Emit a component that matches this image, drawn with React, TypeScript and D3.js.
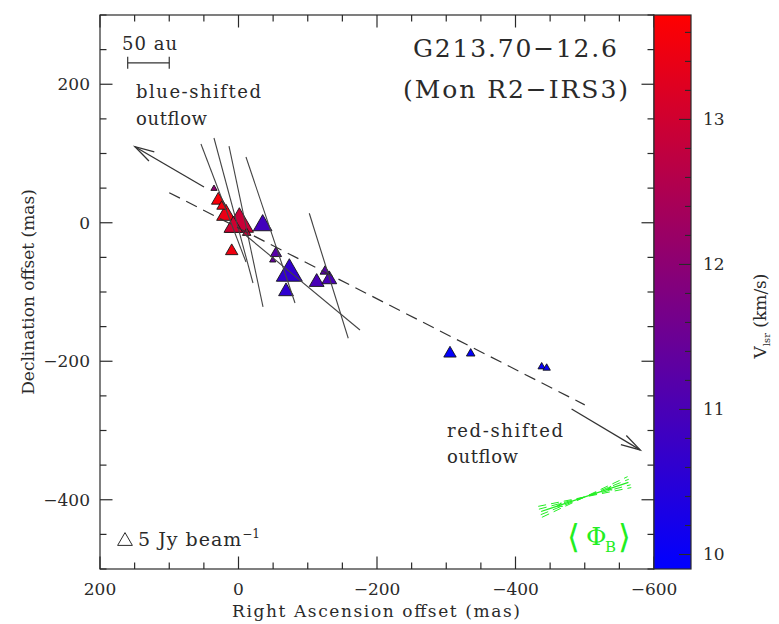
import React from 'react';
import * as d3 from 'd3';

// ---------- data ----------
const X_DOMAIN: [number, number] = [200, -600];
const Y_DOMAIN: [number, number] = [-500, 300];
const X_MAJOR = [200, 0, -200, -400, -600];
const Y_MAJOR = [200, 0, -200, -400];
const V_DOMAIN: [number, number] = [9.9, 13.72];
const V_MAJOR = [10, 11, 12, 13];

// water masers (RA offset, Dec offset in mas; peak flux Jy/beam; Vlsr km/s)
const maserRA = [35.4, 29.2, 24.3, 18.1, -1.2, 7.5, -11.8, -34.9, 9.8, -54.1, -49.4, -73.4, -68.6, -112.9, -124.9, -131.1, -305.4, -335.3, -437.8, -445.0];
const maserDec = [50.6, 35.3, 25.6, 15.1, 4.0, -2.2, -12.9, 0.1, -38.3, -41.8, -52.8, -68.2, -96.1, -82.7, -68.2, -78.8, -186.2, -187.1, -206.4, -208.3];
const maserFlux = [2.1, 4.6, 3.3, 6.3, 9.6, 6.3, 2.9, 6.3, 4.2, 3.8, 2.1, 8.8, 5.0, 5.0, 3.3, 5.0, 4.2, 2.9, 2.5, 2.5];
const maserVlsr = [12.0, 13.6, 13.5, 13.4, 12.9, 13.0, 12.9, 10.9, 13.5, 11.2, 11.4, 10.65, 10.6, 11.0, 11.2, 11.0, 9.95, 9.95, 10.0, 10.0];

// polarization vectors (segment end points, mas)
const polRA1 = [54.2, 35.4, 13.7, -10.8, -102.2, -6.9];
const polDec1 = [113.7, 122.4, 110.8, 95.0, 13.7, -15.2];
const polRA2 = [-10.8, -20.9, -35.4, -81.6, -158.5, -175.4];
const polDec2 = [-56.7, -87.0, -121.6, -115.9, -166.8, -154.9];

// outflow
const outflowAxisRA = [100, -500];
const outflowAxisDec = [43.4, -263];
const blueArrowRA = [49.8, 149.5];
const blueArrowDec = [51.6, 109.8];
const redArrowRA = [-481, -580];
const redArrowDec = [-269, -328];

// 50 au scale bar (mas)
const scaleBarRA = [160, 100];
const scaleBarDec = 231;

// mean magnetic field
const bFieldRA = -500;
const bFieldDec = -396;
const bFieldAngleDeg = 18.4; // above horizontal
const bFieldLenMas = 137;
const bFieldFanDeg = [-7, -3.5, 3.5, 7];

const LEGEND_FLUX = 5;

// ---------- layout ----------
const W = 779, H = 624;
const PL = 100, PR = 654, PT = 15, PB = 569;
const CB0 = 654, CB1 = 691;
const FONT = '"DejaVu Serif", serif';
const INK = '#2a2a2a';

function triPath(cx: number, cy: number, h: number) {
  const w = (h * 2) / Math.sqrt(3);
  return `M${cx},${cy - h / 2}L${cx + w / 2},${cy + h / 2}L${cx - w / 2},${cy + h / 2}Z`;
}

function arrowHead(x1: number, y1: number, x2: number, y2: number, len: number, ang: number) {
  const a = Math.atan2(y1 - y2, x1 - x2);
  const p1 = [x2 + len * Math.cos(a + ang), y2 + len * Math.sin(a + ang)];
  const p2 = [x2 + len * Math.cos(a - ang), y2 + len * Math.sin(a - ang)];
  return `M${p1[0]},${p1[1]}L${x2},${y2}L${p2[0]},${p2[1]}`;
}

const fmt = (v: number) => (v < 0 ? '\u2212' : '') + Math.abs(v);

export default function App() {
  const x = d3.scaleLinear().domain(X_DOMAIN).range([PL, PR]);
  const y = d3.scaleLinear().domain(Y_DOMAIN).range([PB, PT]);
  const vy = d3.scaleLinear().domain(V_DOMAIN).range([PB, PT]);
  const color = d3
    .scaleLinear<string>()
    .domain(V_DOMAIN)
    .range(['#0000ff', '#ff0000'])
    .interpolate(d3.interpolateRgb);
  const size = d3.scaleLinear().domain([0, LEGEND_FLUX]).range([0, 12.8]);

  const xMinor = d3.range(-600, 201, 50);
  const yMinor = d3.range(-500, 301, 50);
  const vMinor = d3.range(0, 19).map((i) => +(10 + i * 0.2).toFixed(1)).filter((v) => v <= V_DOMAIN[1]);

  const order = d3.range(maserRA.length).sort((a, b) => maserFlux[b] - maserFlux[a]);

  const MAJ = 12.5, MIN = 6.5;

  // b-field geometry (pixel)
  const bcx = x(bFieldRA), bcy = y(bFieldDec);
  const bHalf = (bFieldLenMas * (x(0) - x(1))) / 2;
  const seg = (angDeg: number, half: number) => {
    const a = (angDeg * Math.PI) / 180;
    return { x1: bcx - half * Math.cos(a), y1: bcy + half * Math.sin(a), x2: bcx + half * Math.cos(a), y2: bcy - half * Math.sin(a) };
  };
  const bMain = seg(bFieldAngleDeg, bHalf * 0.97);
  const ba = (bFieldAngleDeg * Math.PI) / 180;
  const chevrons = [-0.3, 0.25].map((t) => {
    const cx = bcx + t * 2 * bHalf * Math.cos(ba);
    const cy = bcy - t * 2 * bHalf * Math.sin(ba);
    return arrowHead(cx + 6 * Math.cos(ba), cy - 6 * Math.sin(ba), cx, cy, 5, 0.4);
  });

  return (
    <svg width={W} height={H} style={{ position: 'absolute', left: 0, top: 0, background: '#fff' }}>
      <defs>
        <linearGradient id="cbgrad" x1="0" y1="1" x2="0" y2="0">
          <stop offset="0%" stopColor={color(V_DOMAIN[0])} />
          <stop offset="100%" stopColor={color(V_DOMAIN[1])} />
        </linearGradient>
        <clipPath id="plotclip">
          <rect x={PL} y={PT} width={PR - PL} height={PB - PT} />
        </clipPath>
      </defs>
      <rect x={0} y={0} width={W} height={H} fill="#fff" />

      <g clipPath="url(#plotclip)">
        {/* masers */}
        {order.map((i) => (
          <path
            key={'m' + i}
            d={triPath(x(maserRA[i]), y(maserDec[i]), size(maserFlux[i]))}
            fill={color(maserVlsr[i])}
            stroke="#151515"
            strokeWidth={0.9}
            strokeLinejoin="miter"
          />
        ))}
        {/* polarization vectors */}
        {polRA1.map((_, i) => (
          <line
            key={'p' + i}
            x1={x(polRA1[i])}
            y1={y(polDec1[i])}
            x2={x(polRA2[i])}
            y2={y(polDec2[i])}
            stroke="#444"
            strokeWidth={1.1}
          />
        ))}
        {/* outflow axis */}
        <line
          x1={x(outflowAxisRA[0])}
          y1={y(outflowAxisDec[0])}
          x2={x(outflowAxisRA[1])}
          y2={y(outflowAxisDec[1])}
          stroke="#333"
          strokeWidth={1.2}
          strokeDasharray="12 7"
        />
        {/* outflow arrows */}
        {[
          [blueArrowRA, blueArrowDec],
          [redArrowRA, redArrowDec],
        ].map(([ra, dec], k) => {
          const x1 = x(ra[0]), y1 = y(dec[0]), x2 = x(ra[1]), y2 = y(dec[1]);
          return (
            <g key={'a' + k} stroke="#333" strokeWidth={1.3} fill="none">
              <line x1={x1} y1={y1} x2={x2} y2={y2} />
              <path d={arrowHead(x1, y1, x2, y2, 20, 0.27)} />
            </g>
          );
        })}
        {/* B field */}
        <g stroke="#22ee22" fill="none" strokeWidth={1}>
          <line x1={bMain.x1} y1={bMain.y1} x2={bMain.x2} y2={bMain.y2} strokeWidth={1.3} />
          {bFieldFanDeg.map((d, k) => {
            const s = seg(bFieldAngleDeg + d, bHalf);
            return <line key={'f' + k} x1={s.x1} y1={s.y1} x2={s.x2} y2={s.y2} strokeDasharray="8 5" />;
          })}
          {chevrons.map((c, k) => (
            <path key={'c' + k} d={c} strokeWidth={1.3} />
          ))}
        </g>
      </g>

      {/* scale bar */}
      <g stroke="#333" strokeWidth={1.2}>
        <line x1={x(scaleBarRA[0])} y1={y(scaleBarDec)} x2={x(scaleBarRA[1])} y2={y(scaleBarDec)} />
        <line x1={x(scaleBarRA[0])} y1={y(scaleBarDec) - 6} x2={x(scaleBarRA[0])} y2={y(scaleBarDec) + 6} />
        <line x1={x(scaleBarRA[1])} y1={y(scaleBarDec) - 6} x2={x(scaleBarRA[1])} y2={y(scaleBarDec) + 6} />
      </g>

      {/* frame & ticks */}
      <g stroke={INK} strokeWidth={1.2}>
        {xMinor.map((v) => {
          const L = X_MAJOR.includes(v) ? MAJ : MIN;
          return (
            <g key={'xt' + v}>
              <line x1={x(v)} x2={x(v)} y1={PB} y2={PB - L} />
              <line x1={x(v)} x2={x(v)} y1={PT} y2={PT + L} />
            </g>
          );
        })}
        {yMinor.map((v) => {
          const L = Y_MAJOR.includes(v) ? MAJ : MIN;
          return (
            <g key={'yt' + v}>
              <line x1={PL} x2={PL + L} y1={y(v)} y2={y(v)} />
              <line x1={PR} x2={PR - L} y1={y(v)} y2={y(v)} />
            </g>
          );
        })}
        <rect x={PL} y={PT} width={PR - PL} height={PB - PT} fill="none" />
      </g>

      {/* colorbar */}
      <rect x={CB0} y={PT} width={CB1 - CB0} height={PB - PT} fill="url(#cbgrad)" stroke={INK} strokeWidth={1.2} />
      <g stroke={INK} strokeWidth={1.1}>
        {vMinor.map((v) => {
          const L = V_MAJOR.includes(v) ? 12 : 6;
          return <line key={'vt' + v} x1={CB1} x2={CB1 - L} y1={vy(v)} y2={vy(v)} />;
        })}
      </g>

      {/* tick labels */}
      <g fontFamily={FONT} fontSize={17} fill={INK}>
        {X_MAJOR.map((v) => (
          <text key={'xl' + v} x={x(v)} y={595} textAnchor="middle">
            {fmt(v)}
          </text>
        ))}
        {Y_MAJOR.map((v) => (
          <text key={'yl' + v} x={90} y={y(v)} textAnchor="end" dominantBaseline="central">
            {fmt(v)}
          </text>
        ))}
        {V_MAJOR.map((v) => (
          <text key={'vl' + v} x={703} y={vy(v)} dominantBaseline="central">
            {v}
          </text>
        ))}
        <text x={376} y={617} textAnchor="middle" textLength={288} lengthAdjust="spacing">
          Right Ascension offset (mas)
        </text>
        <text transform="translate(34,292) rotate(-90)" textAnchor="middle">
          Declination offset (mas)
        </text>
        <text transform="translate(766,316) rotate(-90)" textAnchor="middle">
          V<tspan fontSize={10} dy={4}>lsr</tspan>
          <tspan dy={-4}> (km/s)</tspan>
        </text>
      </g>

      {/* annotations */}
      <g fontFamily={FONT} fill={INK}>
        <text x={413} y={57} fontSize={25} textLength={204} lengthAdjust="spacing">
          G213.70{'\u2212'}12.6
        </text>
        <text x={403} y={98} fontSize={25} textLength={225} lengthAdjust="spacing">
          (Mon R2{'\u2212'}IRS3)
        </text>
        <text x={122} y={50} fontSize={18} textLength={55} lengthAdjust="spacing">
          50 au
        </text>
        <text x={136} y={98} fontSize={18} textLength={125} lengthAdjust="spacing">
          blue-shifted
        </text>
        <text x={136} y={125} fontSize={18} textLength={71} lengthAdjust="spacing">
          outflow
        </text>
        <text x={447} y={437} fontSize={18} textLength={116} lengthAdjust="spacing">
          red-shifted
        </text>
        <text x={447} y={463} fontSize={18} textLength={71} lengthAdjust="spacing">
          outflow
        </text>
        <text x={138} y={546} fontSize={19} letterSpacing={1}>
          5 Jy beam
          <tspan fontSize={12} dy={-8} letterSpacing={0}>{'\u2212'}1</tspan>
        </text>
      </g>
      <path d={triPath(125, 539, size(LEGEND_FLUX))} fill="none" stroke={INK} strokeWidth={1} />

      {/* B field label */}
      <g fill="#22ee22">
        <text x={567} y={548} fontSize={33} fontFamily='"DejaVu Sans", sans-serif'>
          {'\u27E8'}
        </text>
        <text x={586} y={545} fontSize={25} fontFamily={FONT}>
          {'\u03A6'}
        </text>
        <text x={605} y={552} fontSize={15} fontFamily={FONT}>
          B
        </text>
        <text x={618} y={548} fontSize={33} fontFamily='"DejaVu Sans", sans-serif'>
          {'\u27E9'}
        </text>
      </g>
    </svg>
  );
}
